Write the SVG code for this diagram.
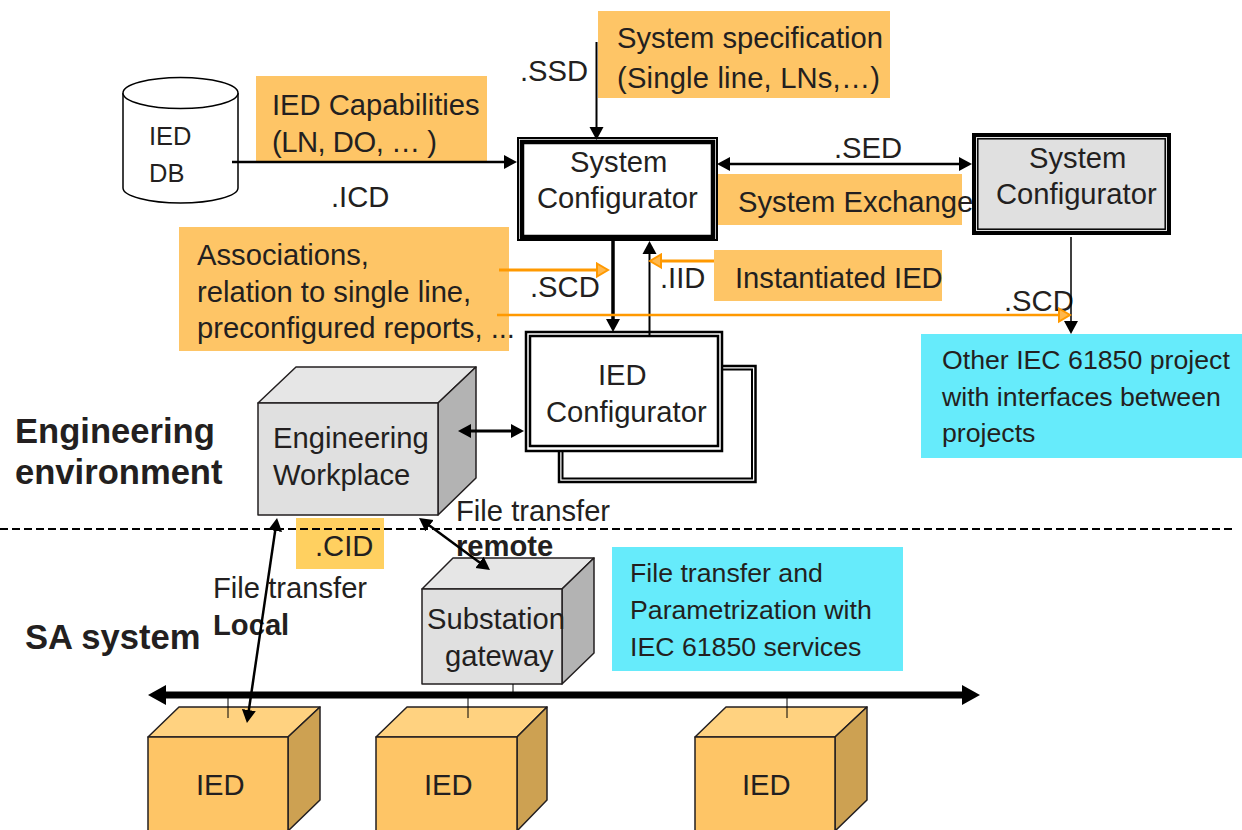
<svg xmlns="http://www.w3.org/2000/svg" width="1242" height="830" viewBox="0 0 1242 830">
<style>
text{font-family:"Liberation Sans",Arial,sans-serif;font-size:29.2px;fill:#231f20}
.sm{font-size:26.7px}
.b{font-weight:bold}
.h{font-weight:bold;font-size:34.6px}
.or{fill:#fec566}
.cy{fill:#66ebfb}
.e{stroke:#000;fill:none}
.k{stroke:#231f20;stroke-width:1.5;stroke-linejoin:round}
.a{stroke:#000;fill:none;marker-end:url(#ah)}
.d{stroke:#000;fill:none;marker-start:url(#ah);marker-end:url(#ah)}
.o{stroke:#f90;fill:none;marker-end:url(#oh)}
</style>
<defs>
<marker id="ah" markerUnits="userSpaceOnUse" markerWidth="14" markerHeight="15" refX="1" refY="7.5" orient="auto-start-reverse"><path d="M0 .5L13 7.5L0 14.500Z" fill="#000"/></marker>
<marker id="oh" markerUnits="userSpaceOnUse" markerWidth="14" markerHeight="17" refX="1" refY="8.5" orient="auto"><path d="M1 2L12 8.500L1 15Z" fill="#ffb84d" stroke="#f90" stroke-width="2"/></marker>
<marker id="bh" markerUnits="userSpaceOnUse" markerWidth="20" markerHeight="22" refX="1" refY="11" orient="auto-start-reverse"><path d="M0 1L18 11L0 21Z" fill="#000"/></marker>
</defs>

<g id="label-system-spec"><rect class="or" x="598" y="11" width="292" height="87"/><text x="617" y="48">System specification</text><text x="617" y="88" textLength="263" lengthAdjust="spacing">(Single line, LNs,…)</text></g>
<g id="label-ied-cap"><rect class="or" x="256" y="76" width="231" height="87"/><text x="272" y="115">IED Capabilities</text><text x="272" y="152" textLength="165" lengthAdjust="spacing">(LN, DO, … )</text></g>
<g id="label-assoc"><rect class="or" x="179" y="227" width="330" height="124"/><text x="197" y="265">Associations,</text><text x="197" y="302">relation to single line,</text><text x="197" y="338">preconfigured reports, ...</text></g>
<g id="label-exchange"><rect class="or" x="718" y="174" width="244" height="51"/><text x="738" y="212">System Exchange</text></g>
<g id="label-instantiated"><rect class="or" x="714" y="250" width="228" height="51"/><text x="735" y="288">Instantiated IED</text></g>
<g id="label-other"><rect class="cy" x="921" y="334" width="321" height="124"/><text class="sm" x="942" y="369">Other IEC 61850 project</text><text class="sm" x="942" y="406">with interfaces between</text><text class="sm" x="942" y="442">projects</text></g>
<g id="label-services"><rect class="cy" x="612" y="547" width="291" height="124"/><text class="sm" x="630" y="582">File transfer and</text><text class="sm" x="630" y="619">Parametrization with</text><text class="sm" x="630" y="656">IEC 61850 services</text></g>
<g id="label-cid"><rect x="296" y="518" width="88" height="51" fill="#ffd060"/><text x="315" y="556">.CID</text></g>

<g id="ied-db">
<path d="M123 93V188C123 196 149 203 180.500 203S238 196 238 188V93" fill="#fff" stroke="#000" stroke-width="1.500"/>
<ellipse cx="180.500" cy="93" rx="57.500" ry="15.500" fill="#fff" stroke="#000" stroke-width="1.500"/>
<text x="149" y="145" style="font-size:25.500px">IED</text><text x="149" y="182" style="font-size:25.500px">DB</text>
</g>

<g id="system-configurator-main">
<rect x="518" y="138" width="199" height="102" fill="#fff" stroke="#000" stroke-width="2"/>
<rect x="522" y="142" width="191" height="95" fill="#fff" stroke="#000" stroke-width="4.500"/>
<text x="570" y="172">System</text><text x="537" y="208">Configurator</text>
</g>
<g id="system-configurator-other">
<rect x="974" y="135" width="195" height="98" fill="#e0e0e0" stroke="#000" stroke-width="4"/>
<rect x="977.800" y="138.800" width="187.400" height="90.400" fill="#e0e0e0" stroke="#000" stroke-width="1.500"/>
<text x="1029" y="168">System</text><text x="996" y="204">Configurator</text>
</g>
<g id="ied-configurator">
<path d="M723 366H755.500V482H559V452" fill="none" stroke="#000" stroke-width="2.500"/>
<path d="M723 369.500H752V478.500H562.500V452" fill="none" stroke="#000" stroke-width="2"/>
<rect x="526" y="332" width="196" height="119" fill="#fff" stroke="#000" stroke-width="2.500"/>
<rect x="530" y="336" width="188" height="110" fill="#fff" stroke="#000" stroke-width="2.500"/>
<text x="598" y="385">IED</text><text x="546" y="422">Configurator</text>
</g>

<g id="engineering-workplace">
<path class="k" fill="#e6e6e6" d="M258 403L296 367H476L438 403Z"/>
<path class="k" fill="#b3b3b3" d="M438 403L476 367V478L438 515Z"/>
<rect class="k" x="258" y="403" width="180" height="112" fill="#e0e0e0"/>
<text x="273" y="448">Engineering</text><text x="273" y="485">Workplace</text>
</g>
<g id="substation-gateway">
<path class="k" fill="#e6e6e6" d="M422 589L453 558H594L562 589Z"/>
<path class="k" fill="#b3b3b3" d="M562 589L594 558V653L562 684Z"/>
<rect class="k" x="422" y="589" width="140" height="95" fill="#e0e0e0"/>
<text x="427" y="629">Substation</text><text x="445" y="666">gateway</text>
</g>
<g id="ied-1">
<path class="k" fill="#ffd280" d="M148 737L179 707H320L288 737Z"/>
<path class="k" fill="#cda152" d="M288 737L320 707V800L288 831Z"/>
<rect class="k" x="148" y="737" width="140" height="95" fill="#fec566"/>
<text x="196" y="795">IED</text>
</g>
<g id="ied-2">
<path class="k" fill="#ffd280" d="M376 737L407 707H547L517 737Z"/>
<path class="k" fill="#cda152" d="M517 737L547 707V800L517 831Z"/>
<rect class="k" x="376" y="737" width="141" height="95" fill="#fec566"/>
<text x="424" y="795">IED</text>
</g>
<g id="ied-3">
<path class="k" fill="#ffd280" d="M695 737L726 707H867L835 737Z"/>
<path class="k" fill="#cda152" d="M835 737L867 707V800L835 831Z"/>
<rect class="k" x="695" y="737" width="140" height="95" fill="#fec566"/>
<text x="742" y="795">IED</text>
</g>

<g id="labels">
<text x="520" y="81">.SSD</text>
<text x="331" y="207">.ICD</text>
<text x="530" y="297">.SCD</text>
<text x="660" y="288">.IID</text>
<text x="834" y="158">.SED</text>
<text x="1004" y="311">.SCD</text>
<text class="h" x="15" y="443">Engineering</text>
<text class="h" x="15" y="484">environment</text>
<text class="h" x="25" y="649">SA system</text>
<text x="456" y="521">File transfer</text>
<text class="b" x="456" y="556">remote</text>
<text x="213" y="598">File transfer</text>
<text class="b" x="213" y="635">Local</text>
</g>

<g id="connectors">
<path d="M0 529H1234" stroke="#000" stroke-width="2" stroke-dasharray="8 4" fill="none"/>
<path class="e" stroke-width="1" d="M228 695V718M468 695V718M787 695V718M513 684V692"/>
<path d="M165 695H963" stroke="#000" stroke-width="7" fill="none" marker-start="url(#bh)" marker-end="url(#bh)"/>
<path class="a" stroke-width="2.500" d="M232 162H505"/>
<path class="a" stroke-width="2" d="M596.500 42V128"/>
<path class="d" stroke-width="2.500" d="M729 164H960"/>
<path class="a" stroke-width="3.500" d="M613 241V320"/>
<path class="a" stroke-width="2" d="M649.500 335V253"/>
<path class="a" stroke-width="1.500" d="M1071 237V322"/>
<path class="d" stroke-width="3" d="M470 431H512"/>
<path class="d" stroke-width="2.500" d="M275.300 529.900L248.700 711.100"/>
<path class="d" stroke-width="2.500" d="M428.700 525.100L480.300 562.900"/>
<path class="o" stroke-width="3" d="M499 270H597"/>
<path class="o" stroke-width="3" d="M714 261H661"/>
<path class="o" stroke-width="2.500" d="M497 315H1059"/>
</g>
</svg>
